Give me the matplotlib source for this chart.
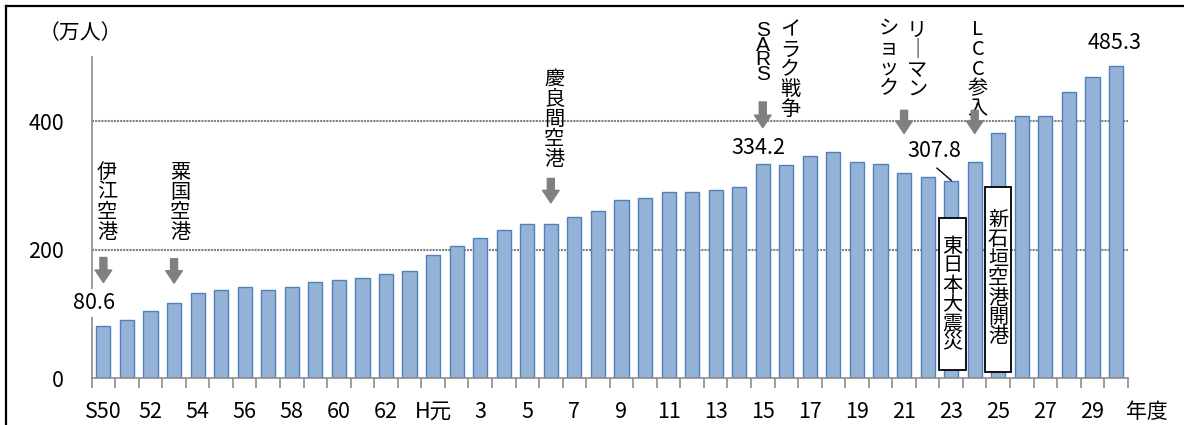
import matplotlib
matplotlib.use('Agg')
import matplotlib.pyplot as plt
from matplotlib.lines import Line2D
from matplotlib.patches import Rectangle

plt.rcParams['font.family'] = ['Noto Sans CJK JP', 'DejaVu Sans']

# passengers (10k people), S50 .. H30
values = [80.6, 90.2, 105.2, 117.1, 132.1, 137.8, 141.5, 137.8, 141.5, 149.7,
          152.8, 156.5, 161.7, 167.4, 191.7, 206.2, 218.7, 230.6, 239.4, 239.4,
          250.8, 259.6, 277.7, 280.8, 289.6, 289.6, 292.7, 298.4, 334.2, 331.6,
          346.6, 352.3, 337.3, 334.2, 319.7, 313.5, 307.8, 337.3, 381.9, 408.8,
          408.8, 445.1, 468.9, 485.3]
tick_pos = list(range(0, 44, 2))
tick_labels = ['S50', '52', '54', '56', '58', '60', '62', 'H元', '3', '5', '7',
               '9', '11', '13', '15', '17', '19', '21', '23', '25', '27', '29']

# events: (characters stacked top to bottom, x index, y centre)
events = [(list('伊江空港'), 0.15, 274), (list('粟国空港'), 3.25, 274),
          (list('慶良間空港'), 19.14, 403), (list('イラク戦争'), 29.15, 480),
          (['L', 'C', 'C', '参', '入'], 37.13, 481),
          (list('ショック'), 33.35, 497), (['リ', '｜', 'マ', 'ン'], 34.55, 495)]
arrows = [(0, 188, 149), (3, 186, 148), (19, 311, 273),
          (28, 430, 390), (34, 417, 381), (37, 417, 381)]
# boxed notes: text, text x, text y, box x0, x1, y0, y1
boxes = [('東日本大震災', 36.05, 130, 35.48, 36.63, 12.9, 249.2),
         ('新石垣空港開港', 37.99, 155, 37.44, 38.54, 9.8, 297.4)]

fig = plt.figure(figsize=(11.84, 4.25), dpi=100)
ax = fig.add_axes([0.0774, 0.1099, 0.8751, 0.756])

x = list(range(len(values)))
ax.bar(x, values, width=0.6, color='#95B3D7', edgecolor='#4F81BD', linewidth=1.0, zorder=2)
ax.set_xlim(-0.5, len(values) - 0.5)
ax.set_ylim(0, 500)

for gy in [200, 400]:
    ax.axhline(gy, color='#808080', linestyle=(0, (1, 0.5)), linewidth=1.5, zorder=1)

for s in ['top', 'right']:
    ax.spines[s].set_visible(False)
for s in ['left', 'bottom']:
    ax.spines[s].set_color('#8c8c8c')
    ax.spines[s].set_linewidth(1.2)

ax.set_yticks([0, 200, 400])
ax.set_yticklabels(['0', '200', '400'])
ax.tick_params(axis='y', length=0, pad=20, labelsize=15.5)
ax.set_xticks(tick_pos)
ax.set_xticklabels(tick_labels)
ax.tick_params(axis='x', which='major', length=0, pad=16, labelsize=15.5)
ax.set_xticks([i - 0.5 for i in range(len(values) + 1)], minor=True)
ax.tick_params(axis='x', which='minor', length=7, width=1.2, color='#8c8c8c', direction='out')

for chars, tx, ty in events:
    ax.text(tx, ty, '\n'.join(chars), ha='center', va='center', fontsize=14.5,
            linespacing=0.93, zorder=5)
ax.text(28.0, 507, '\n'.join('SARS'), ha='center', va='center', fontsize=15,
        family=['Liberation Sans', 'DejaVu Sans'], linespacing=0.72, zorder=5)

for ax_x, y0, y1 in arrows:
    ax.annotate('', xy=(ax_x, y1), xytext=(ax_x, y0),
                arrowprops=dict(arrowstyle='simple,head_length=0.75,head_width=1.0,tail_width=0.42',
                                color='#808080', mutation_scale=12, shrinkA=0, shrinkB=0),
                zorder=5)

for txt, tx, ty, x0, x1, y0, y1 in boxes:
    ax.add_patch(Rectangle((x0, y0), x1 - x0, y1 - y0, facecolor='white',
                           edgecolor='black', linewidth=1.3, zorder=6))
    ax.text(tx, ty, '\n'.join(txt), ha='center', va='center', fontsize=14.5,
            linespacing=0.9, zorder=7)

ax.text(-0.4, 117, '80.6', ha='center', va='center', fontsize=15.5, zorder=6,
        bbox=dict(boxstyle='square,pad=0.15', facecolor='white', edgecolor='none'))
ax.text(27.8, 358, '334.2', ha='center', va='center', fontsize=15.5, zorder=6)
ax.text(35.3, 353, '307.8', ha='center', va='center', fontsize=15.5, zorder=6)
ax.plot([35.4, 36.0], [327, 308], color='black', linewidth=1, zorder=6)
ax.text(42.96, 522, '485.3', ha='center', va='center', fontsize=15.5, zorder=6)

fig.text(80 / 1184, 1 - 33 / 425, '（万人）', ha='center', va='center', fontsize=15)
fig.text(1147 / 1184, 1 - 412 / 425, '年度', ha='center', va='center', fontsize=15)

# outer frame
fig.add_artist(Line2D([6 / 1184, 6 / 1184], [0, 1 - 6 / 425], color='black', linewidth=1.6))
fig.add_artist(Line2D([6 / 1184, 1], [1 - 6 / 425, 1 - 6 / 425], color='black', linewidth=1.6))

fig.savefig('out.png', dpi=100)
